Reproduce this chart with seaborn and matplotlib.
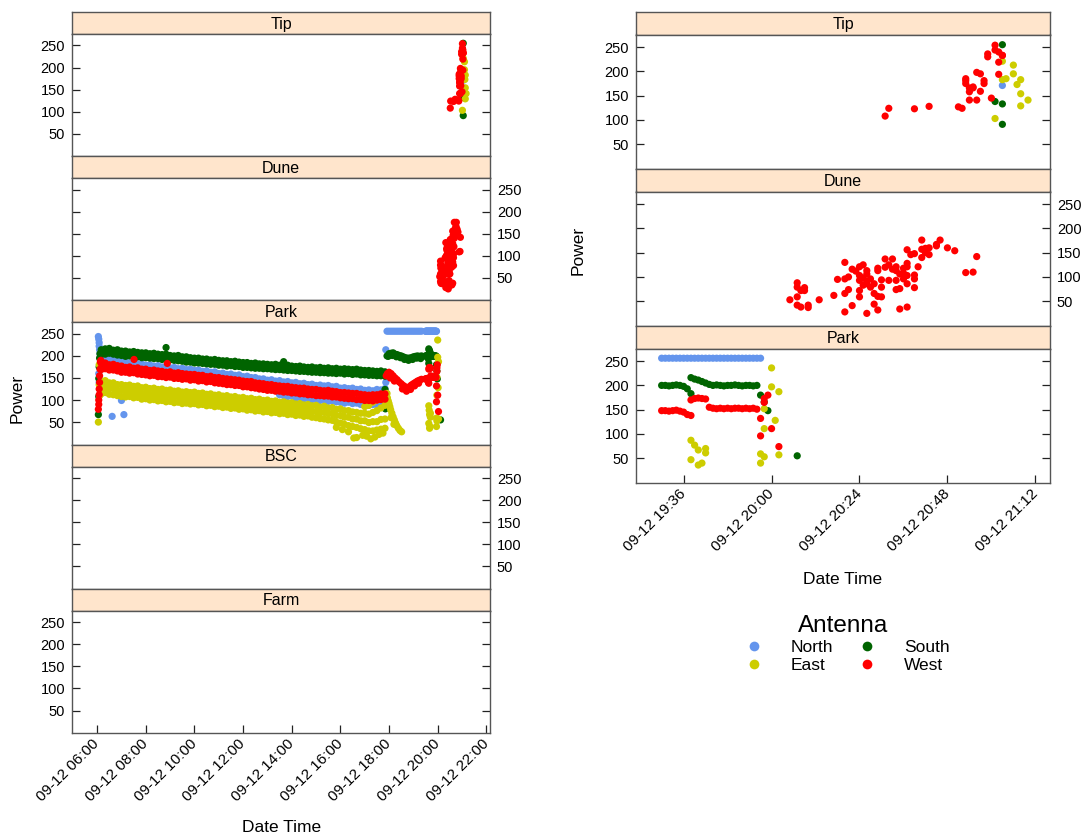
import pandas as pd
import matplotlib
matplotlib.use("Agg")
import matplotlib.pyplot as plt
import matplotlib.dates as mdates
from matplotlib.lines import Line2D
import seaborn as sns

# ---------------- data ----------------
antennas = ["North", "South", "East", "West"]
antenna_colours = {"North": "#6495ED", "South": "#006400", "East": "#CDCD00", "West": "#FF0000"}
sites_left = ["Tip", "Dune", "Park", "BSC", "Farm"]
sites_right = ["Tip", "Dune", "Park"]
left_ticks = ["06:00", "08:00", "10:00", "12:00", "14:00", "16:00", "18:00", "20:00", "22:00"]
right_ticks = ["19:36", "20:00", "20:24", "20:48", "21:12"]
power_ticks = [50, 100, 150, 200, 250]

# Park, day-long bands (sampled every 10 min)
band_times = [
    "06:10", "06:20", "06:30", "06:40", "06:50", "07:00", "07:10", "07:20", "07:30", "07:40",
    "07:50", "08:00", "08:10", "08:20", "08:30", "08:40", "08:50", "09:00", "09:10", "09:20",
    "09:30", "09:40", "09:50", "10:00", "10:10", "10:20", "10:30", "10:40", "10:50", "11:00",
    "11:10", "11:20", "11:30", "11:40", "11:50", "12:00", "12:10", "12:20", "12:30", "12:40",
    "12:50", "13:00", "13:10", "13:20", "13:30", "13:40", "13:50", "14:00", "14:10", "14:20",
    "14:30", "14:40", "14:50", "15:00", "15:10", "15:20", "15:30", "15:40", "15:50", "16:00",
    "16:10", "16:20", "16:30", "16:40", "16:50", "17:00", "17:10", "17:20", "17:30", "17:40",
    "17:50"]
south_hi = [214, 216, 217, 213, 214, 211, 211, 209, 210, 208,
            207, 207, 205, 206, 204, 203, 204, 201, 200, 201,
            198, 198, 196, 195, 195, 193, 193, 191, 192, 190,
            189, 189, 187, 188, 186, 185, 185, 183, 184, 182,
            182, 181, 180, 181, 179, 178, 179, 177, 176, 177,
            175, 174, 175, 173, 174, 172, 173, 171, 172, 170,
            171, 170, 169, 170, 168, 167, 167, 166, 165, 166,
            164]
south_lo = [203, 204, 206, 204, 202, 201, 199, 200, 198, 198,
            196, 196, 195, 194, 194, 192, 193, 191, 190, 189,
            188, 186, 186, 184, 184, 183, 182, 181, 181, 179,
            179, 177, 178, 176, 176, 174, 174, 173, 172, 172,
            171, 171, 170, 169, 169, 168, 167, 167, 166, 165,
            165, 164, 163, 163, 162, 162, 161, 161, 160, 161,
            159, 160, 158, 159, 157, 157, 156, 156, 155, 155,
            154]
west_hi = [183, 184, 180, 181, 178, 177, 174, 175, 172, 173,
           170, 170, 167, 168, 166, 165, 163, 164, 161, 162,
           160, 159, 158, 158, 156, 156, 153, 154, 151, 151,
           149, 148, 147, 146, 145, 143, 142, 142, 139, 138,
           137, 135, 135, 133, 132, 131, 131, 129, 128, 127,
           127, 125, 124, 124, 122, 121, 122, 120, 119, 117,
           117, 116, 115, 115, 113, 112, 111, 112, 112, 114,
           114]
west_lo = [169, 171, 168, 168, 166, 163, 163, 161, 162, 159,
           158, 157, 155, 156, 153, 153, 151, 152, 149, 149,
           147, 148, 145, 146, 143, 144, 141, 142, 139, 138,
           137, 135, 135, 133, 133, 130, 130, 128, 127, 125,
           124, 122, 122, 120, 120, 118, 118, 116, 116, 114,
           114, 112, 112, 110, 110, 109, 109, 107, 107, 105,
           104, 103, 103, 101, 101, 99, 99, 98, 100, 101,
           102]
north_hi = [201, 195, 193, 190, 190, 187, 187, 184, 185, 182,
            182, 179, 180, 177, 178, 175, 176, 173, 174, 171,
            172, 169, 170, 167, 168, 165, 166, 163, 164, 160,
            161, 158, 159, 156, 157, 153, 154, 151, 151, 148,
            148, 145, 146, 143, 144, 141, 142, 139, 140, 137,
            138, 135, 136, 133, 134, 132, 133, 130, 131, 127,
            128, 126, 127, 124, 125, 122, 123, 121, 124, 123,
            126]
north_lo = [176, 177, 175, 174, 172, 170, 169, 168, 167, 166,
            164, 163, 162, 161, 160, 159, 158, 157, 156, 155,
            154, 153, 152, 151, 150, 149, 148, 147, 146, 144,
            143, 142, 141, 140, 139, 137, 136, 135, 133, 132,
            130, 129, 128, 127, 112, 110, 108, 109, 105, 106,
            103, 104, 101, 102, 99, 100, 97, 98, 96, 95,
            93, 95, 92, 93, 90, 91, 88, 90, 89, 92,
            93]
east_hi = [141, 144, 139, 139, 135, 135, 133, 134, 131, 132,
           128, 129, 126, 127, 124, 125, 122, 123, 120, 121,
           118, 119, 117, 118, 115, 116, 113, 114, 111, 112,
           109, 110, 107, 108, 105, 106, 103, 104, 101, 102,
           99, 100, 97, 98, 95, 96, 93, 94, 91, 92,
           89, 90, 87, 88, 84, 86, 82, 83, 79, 80,
           76, 76, 73, 72, 70, 70, 68, 72, 76, 82,
           88]
east_mid = [127, 131, 126, 126, 122, 122, 120, 121, 118, 119,
            115, 116, 113, 114, 111, 112, 109, 110, 107, 108,
            105, 106, 104, 105, 102, 103, 100, 101, 98, 99,
            96, 97, 94, 95, 92, 93, 90, 91, 88, 89,
            86, 87, 84, 85, 82, 83, 80, 81, 78, 79,
            76, 77, 74, 74, 71, 72, 69, 69, 65, 65,
            61, 61, 57, 57, 53, 53, 49, 51, 51, 56,
            57]
east_lo = [114, 117, 113, 112, 110, 108, 107, 108, 105, 106,
           102, 103, 100, 101, 98, 99, 96, 97, 94, 95,
           92, 93, 91, 92, 89, 90, 87, 88, 85, 86,
           83, 84, 81, 82, 79, 80, 77, 78, 75, 76,
           73, 74, 71, 72, 69, 70, 67, 68, 65, 66,
           63, 64, 61, 60, 58, 57, 55, 54, 50, 48,
           45, 42, 40, 38, 35, 33, 30, 30, 32, 34,
           36]

# Park, single readings (start-up, outliers, evening)
park_north_t = ["06:03", "06:04", "06:05", "06:05", "06:06", "06:07", "06:08", "06:04", "06:05",
                "06:37", "07:06", "07:00", "17:52", "17:52",
                "17:55", "18:00", "18:05", "18:10", "18:15", "18:20", "18:25", "18:30", "18:35",
                "18:40", "18:45", "18:50", "18:55", "19:00", "19:05", "19:10", "19:15", "19:20",
                "19:30", "19:31", "19:32", "19:33", "19:34", "19:35", "19:36", "19:37", "19:38",
                "19:39", "19:40", "19:41", "19:42", "19:43", "19:44", "19:45", "19:46", "19:47",
                "19:48", "19:49", "19:50", "19:51", "19:52", "19:53", "19:54", "19:55", "19:56",
                "19:57"]
park_north_p = [244, 238, 230, 222, 214, 205, 198, 160, 140,
                63, 67, 99, 214, 140,
                256, 256, 256, 256, 256, 256, 256, 256, 256,
                256, 256, 256, 256, 256, 256, 256, 256, 256,
                256, 256, 256, 256, 256, 256, 256, 256, 256,
                256, 256, 256, 256, 256, 256, 256, 256, 256,
                256, 256, 256, 256, 256, 256, 256, 256, 256,
                256]
park_south_t = ["06:03", "06:04", "06:04", "06:05", "06:06", "06:07", "08:50", "13:40",
                "17:50", "17:51",
                "17:55", "18:00", "18:05", "18:10", "18:15", "18:20", "18:25", "18:30", "18:35",
                "18:40", "18:45", "18:50", "18:55", "19:00", "19:05", "19:10", "19:15", "19:20",
                "17:58", "18:08", "18:18", "18:28", "18:38", "18:48", "18:58", "19:08", "19:18",
                "19:30", "19:31", "19:32", "19:33", "19:34", "19:35", "19:36", "19:37", "19:38",
                "19:38", "19:39", "19:40", "19:41", "19:42", "19:43", "19:44", "19:45", "19:46",
                "19:47", "19:48", "19:49", "19:50", "19:51", "19:52", "19:53", "19:54", "19:55",
                "19:56", "19:57", "19:58", "19:59", "20:07"]
park_south_p = [67, 108, 149, 175, 195, 205, 219, 187,
                124, 80,
                200, 205, 206, 207, 204, 203, 201, 200, 198,
                196, 195, 195, 196, 198, 199, 200, 199, 200,
                199, 201, 198, 196, 192, 190, 192, 195, 194,
                200, 200, 199, 200, 201, 200, 198, 193, 183,
                216, 213, 211, 208, 205, 202, 200, 201, 200,
                199, 200, 200, 201, 200, 199, 200, 200, 199,
                200, 180, 166, 148, 55]
park_east_t = ["06:03", "06:05", "06:05", "06:06",
               "15:50", "16:05", "16:20", "16:33", "16:40", "16:55", "17:05", "17:15", "17:25",
               "17:35", "17:45", "17:00", "17:10", "17:20", "17:30", "17:40",
               "17:53", "17:55", "17:56", "17:58", "18:00", "18:02", "18:04", "18:07", "18:10",
               "18:13", "18:16", "18:19", "18:23", "18:27", "18:31", "18:05", "18:12",
               "19:38", "19:38", "19:39", "19:40", "19:40", "19:41", "19:42", "19:42",
               "19:57", "19:57", "19:58", "19:58", "19:58", "20:00", "20:00", "20:01", "20:02",
               "20:02"]
park_east_p = [50, 180, 135, 110,
               38, 33, 28, 14, 15, 20, 18, 12, 16,
               22, 25, 85, 88, 95, 100, 104,
               95, 115, 105, 98, 92, 85, 78, 70, 62,
               55, 48, 42, 36, 31, 28, 60, 45,
               47, 87, 77, 67, 36, 40, 70, 61,
               40, 59, 53, 111, 152, 197, 236, 128, 187,
               57]
park_west_t = ["06:03", "06:04", "06:04", "06:05", "06:05", "06:06", "06:06", "06:07", "06:08",
               "06:09", "07:31", "08:53",
               "17:53", "17:56", "18:00", "18:05", "18:10", "18:15", "18:20", "18:25", "18:30",
               "18:35", "18:40", "18:45", "18:50", "18:55", "19:00", "19:05", "19:10", "19:15",
               "19:20", "18:03", "18:13", "18:33", "18:43", "18:53", "19:03", "19:13",
               "19:30", "19:31", "19:32", "19:33", "19:34", "19:35", "19:36", "19:37", "19:38",
               "19:38", "19:39", "19:40", "19:41", "19:42", "19:43", "19:44", "19:45", "19:46",
               "19:47", "19:48", "19:49", "19:50", "19:51", "19:52", "19:53", "19:54", "19:55",
               "19:56", "19:57", "19:57", "19:58", "19:59", "19:58", "20:00", "20:02"]
park_west_p = [79, 90, 100, 112, 125, 140, 155, 170, 187,
               190, 192, 183,
               155, 160, 163, 160, 155, 150, 146, 141, 137,
               133, 130, 128, 130, 134, 137, 140, 143, 145,
               147, 150, 143, 125, 120, 124, 132, 138,
               148, 148, 147, 148, 149, 147, 145, 140, 138,
               170, 173, 174, 173, 172, 155, 153, 152, 153,
               152, 153, 152, 153, 153, 152, 153, 152, 153,
               151, 132, 96, 173, 180, 165, 111, 74]

# Tip
tip_west_t = ["20:31", "20:32", "20:39", "20:43", "20:51", "20:52", "20:53", "20:53", "20:53",
              "20:54", "20:54", "20:54", "20:55", "20:55", "20:56", "20:56", "20:57", "20:57",
              "20:58", "20:58", "20:59", "20:59", "21:00", "21:01", "21:01", "21:02", "21:02",
              "21:02", "21:03", "21:03"]
tip_west_p = [108, 124, 123, 128, 127, 124, 185, 181, 175,
              166, 158, 141, 168, 166, 141, 198, 195, 159,
              181, 175, 236, 230, 145, 244, 254, 219, 194,
              240, 233, 233]
tip_south_t = ["21:03", "21:01", "21:03", "21:03"]
tip_south_p = [255, 138, 133, 91]
tip_east_t = ["21:03", "21:03", "21:04", "21:01", "21:06", "21:06", "21:07", "21:08", "21:08",
              "21:10", "21:08"]
tip_east_p = [221, 183, 185, 103, 213, 195, 173, 183, 154, 141, 129]
tip_north_t = ["21:03"]
tip_north_p = [171]

# Dune
dune_west_t = ["20:05", "20:07", "20:07", "20:08", "20:09", "20:09", "20:07", "20:07", "20:08",
               "20:10", "20:10", "20:13", "20:17", "20:18", "20:20", "20:21", "20:20", "20:20",
               "20:21", "20:22", "20:20", "20:22", "20:23", "20:24", "20:24", "20:24", "20:25",
               "20:25", "20:26", "20:24", "20:25", "20:26", "20:26", "20:27", "20:27", "20:28",
               "20:28", "20:29", "20:29", "20:29", "20:28", "20:29", "20:26", "20:30", "20:30",
               "20:31", "20:31", "20:32", "20:32", "20:33", "20:33", "20:34", "20:34", "20:34",
               "20:35", "20:35", "20:35", "20:36", "20:36", "20:37", "20:37", "20:37", "20:37",
               "20:37", "20:38", "20:39", "20:39", "20:39", "20:39", "20:40", "20:41", "20:41",
               "20:41", "20:42", "20:42", "20:43", "20:43", "20:45", "20:45", "20:46", "20:48",
               "20:50", "20:53", "20:55", "20:56",
               "20:24", "20:30", "20:26", "20:37", "20:36", "20:34"]
dune_west_p = [53, 88, 79, 72, 78, 72, 59, 42, 38,
               42, 37, 53, 62, 95, 96, 100, 130, 66,
               74, 41, 28, 116, 112, 121, 103, 93, 125,
               98, 91, 59, 83, 113, 86, 96, 79, 86,
               66, 60, 113, 118, 44, 32, 25, 59, 94,
               137, 120, 125, 93, 137, 116, 74, 121, 113,
               106, 76, 34, 108, 96, 128, 38, 103, 86,
               156, 146, 148, 78, 96, 104, 121, 157, 176,
               140, 150, 159, 160, 146, 167, 164, 176, 160,
               154, 109, 110, 142,
               72, 79, 106, 121, 118, 93]

records = []


def add(site, antenna, times, power):
    assert len(times) == len(power), (site, antenna, len(times), len(power))
    records.extend((site, antenna, t, p) for t, p in zip(times, power))


add("Park", "North", band_times, north_hi)
add("Park", "North", band_times, north_lo)
add("Park", "North", park_north_t, park_north_p)
add("Park", "South", band_times, south_hi)
add("Park", "South", band_times, south_lo)
add("Park", "South", park_south_t, park_south_p)
add("Park", "East", band_times, east_hi)
add("Park", "East", band_times, east_mid)
add("Park", "East", band_times, east_lo)
add("Park", "East", park_east_t, park_east_p)
add("Park", "West", band_times, west_hi)
add("Park", "West", band_times, west_lo)
add("Park", "West", park_west_t, park_west_p)
add("Tip", "North", tip_north_t, tip_north_p)
add("Tip", "South", tip_south_t, tip_south_p)
add("Tip", "East", tip_east_t, tip_east_p)
add("Tip", "West", tip_west_t, tip_west_p)
add("Dune", "West", dune_west_t, dune_west_p)

df = pd.DataFrame(records, columns=["site", "antenna", "time", "power"])
df["time"] = pd.to_datetime("2015-09-12 " + df["time"])
df["antenna"] = pd.Categorical(df["antenna"], categories=antennas, ordered=True)
df = df.sort_values("antenna", kind="stable")

# ---------------- plot ----------------
sns.set_theme(style="white")
plt.rcParams["font.family"] = ["Liberation Sans", "DejaVu Sans"]
plt.rcParams["text.color"] = "black"
plt.rcParams["xtick.color"] = "black"
plt.rcParams["ytick.color"] = "black"

W, H = 1089, 840
fig = plt.figure(figsize=(W / 100, H / 100), dpi=100)
fig.patch.set_facecolor("white")
edge = "#555555"


def rect(x0, y0, x1, y1):
    return [x0 / W, 1 - y1 / H, (x1 - x0) / W, (y1 - y0) / H]


def day(t):
    return pd.Timestamp("2015-09-12 " + t)


def stack(sites, x0, x1, top, strip_h, panel_h, xlim, xticks):
    n = len(sites)
    for i, site in enumerate(sites):
        ys = top + i * (strip_h + panel_h)
        sax = fig.add_axes(rect(x0, ys, x1, ys + strip_h))
        sax.set_facecolor("#FFE5CC")
        sax.set_xticks([])
        sax.set_yticks([])
        sax.text(0.5, 0.45, site, ha="center", va="center", fontsize=11.5, transform=sax.transAxes)
        for sp in sax.spines.values():
            sp.set_color(edge)
            sp.set_linewidth(1)

        ax = fig.add_axes(rect(x0, ys + strip_h, x1, ys + strip_h + panel_h))
        sub = df[df["site"] == site]
        if len(sub):
            sns.scatterplot(data=sub, x="time", y="power", hue="antenna", hue_order=antennas,
                            palette=antenna_colours, s=27, linewidth=0, alpha=1,
                            legend=False, ax=ax)
        ax.set_xlim(xlim)
        ax.set_ylim(-1, 276)
        ax.set_yticks(power_ticks)
        ax.set_xticks([day(t) for t in xticks])
        ax.xaxis.set_major_formatter(mdates.DateFormatter("%m-%d %H:%M"))
        ax.set_xlabel("")
        ax.set_ylabel("")
        ax.tick_params(axis="y", direction="in", left=True, right=True,
                       labelleft=(i % 2 == 0), labelright=(i % 2 == 1),
                       length=6, width=0.9, color="#222222", pad=5, labelsize=10.5)
        last = i == n - 1
        ax.tick_params(axis="x", direction="in", bottom=last, top=False,
                       labelbottom=last, labeltop=False,
                       length=6, width=0.9, color="#222222", pad=6, labelsize=11)
        if last:
            for lab in ax.get_xticklabels():
                lab.set_rotation(45)
                lab.set_ha("right")
                lab.set_va("center")
                lab.set_rotation_mode("anchor")
        for sp in ax.spines.values():
            sp.set_color(edge)
            sp.set_linewidth(1)


stack(sites_left, 72, 490, 12, 22, 122.2, (day("04:58"), day("22:09")), left_ticks)
stack(sites_right, 636, 1050, 12, 22.5, 134.5, (day("19:23"), day("21:16")), right_ticks)

fig.text(17 / W, 1 - 398 / H, "Power", rotation=90, ha="center", va="center", fontsize=12.5)
fig.text(282 / W, 1 - 828 / H, "Date Time", ha="center", va="center", fontsize=12.5)
fig.text(578 / W, 1 - 250 / H, "Power", rotation=90, ha="center", va="center", fontsize=12.5)
fig.text(843 / W, 1 - 580 / H, "Date Time", ha="center", va="center", fontsize=12.5)

handles = [Line2D([], [], marker="o", linestyle="", markersize=7,
                  markerfacecolor=antenna_colours[a], markeredgewidth=0) for a in antennas]
leg_order = ["North", "East", "South", "West"]
fig.legend([handles[antennas.index(a)] for a in leg_order], leg_order, ncol=2,
           title="Antenna", title_fontsize=17.5, fontsize=12.5, frameon=False,
           loc="center", bbox_to_anchor=(843 / W, 1 - 644 / H),
           handletextpad=1.1, columnspacing=1.0, labelspacing=0.15, borderpad=0)

fig.savefig("out.png", dpi=100)
